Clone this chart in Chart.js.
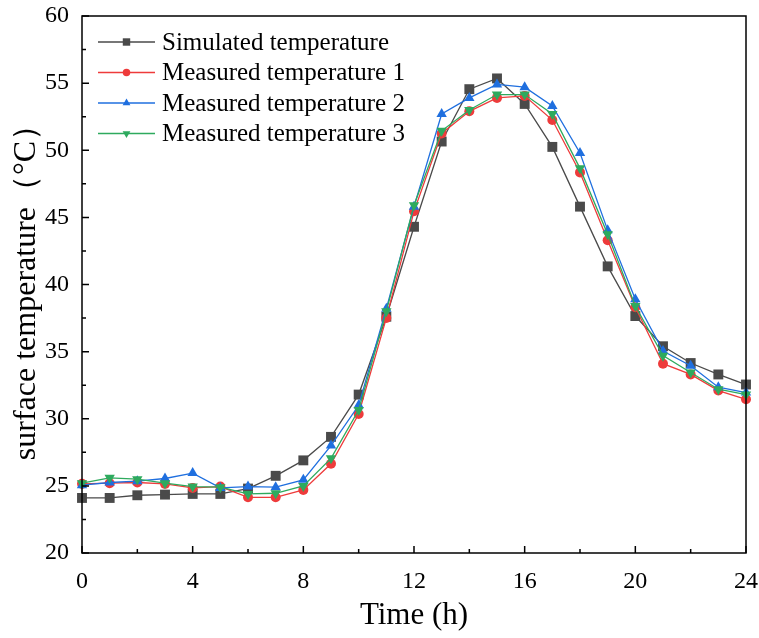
<!DOCTYPE HTML>
<html>
  <head>
    <script src="https://cdn.jsdelivr.net/npm/chart.js"></script>
    <style>
      body { margin: 0; background: #fff; }
    </style>
  </head>
  <body>
    <div style="position: relative; width: 759px; height: 638px;">
      <canvas id="temp-chart"></canvas>
    </div>

    <script>
      const hours = [0,1,2,3,4,5,6,7,8,9,10,11,12,13,14,15,16,17,18,19,20,21,22,23,24];
      const simulated = [24.1, 24.1, 24.3, 24.35, 24.4, 24.4, 24.8, 25.75, 26.9, 28.65, 31.8, 37.6, 44.3, 50.65, 54.55, 55.35, 53.45, 50.25, 45.8, 41.35, 37.65, 35.4, 34.15, 33.3, 32.55];
      const measured1 = [25.15, 25.2, 25.25, 25.15, 24.85, 24.95, 24.15, 24.15, 24.7, 26.65, 30.35, 37.5, 45.45, 51.25, 52.9, 53.9, 54.05, 52.25, 48.35, 43.3, 38.3, 34.1, 33.3, 32.1, 31.45];
      const measured2 = [25.05, 25.25, 25.35, 25.55, 25.95, 24.85, 24.95, 24.9, 25.45, 28.0, 31.0, 38.2, 45.8, 52.7, 53.9, 54.9, 54.7, 53.3, 49.8, 44.05, 38.9, 35.05, 33.95, 32.35, 31.95];
      const measured3 = [25.2, 25.6, 25.5, 25.2, 24.95, 24.9, 24.4, 24.45, 25.0, 27.05, 30.65, 38.0, 45.9, 51.45, 53.0, 54.15, 54.15, 52.7, 48.65, 43.75, 38.4, 34.7, 33.45, 32.2, 31.8];
      const labels = ['Simulated temperature', 'Measured temperature 1', 'Measured temperature 2', 'Measured temperature 3'];

      const serif = '"Liberation Serif", "DejaVu Serif", serif';

      function pts(vals) {
        return hours.map(function(h, i) { return {x: h, y: vals[i]}; });
      }

      // frame, inward ticks and a legend with line + marker samples
      const decor = {
        id: 'decor',
        afterDraw: function(chart) {
          const ctx = chart.ctx;
          const a = chart.chartArea;
          const xs = chart.scales.x, ys = chart.scales.y;
          ctx.save();
          ctx.strokeStyle = '#000';
          ctx.lineWidth = 1.5;
          ctx.strokeRect(a.left, a.top, a.right - a.left, a.bottom - a.top);
          ctx.beginPath();
          for (let v = 0; v <= 24; v += 2) {
            const px = xs.getPixelForValue(v);
            const len = (v % 4 === 0) ? 7 : 4;
            ctx.moveTo(px, a.bottom); ctx.lineTo(px, a.bottom - len);
          }
          for (let v = 20; v <= 60; v += 2.5) {
            const py = ys.getPixelForValue(v);
            const len = (v % 5 === 0) ? 7 : 4;
            ctx.moveTo(a.left, py); ctx.lineTo(a.left + len, py);
          }
          ctx.stroke();

          // legend
          ctx.font = '25px ' + serif;
          ctx.textBaseline = 'middle';
          chart.data.datasets.forEach(function(ds, i) {
            const y = 42 + i * 30.5;
            ctx.strokeStyle = ds.borderColor;
            ctx.lineWidth = 1.5;
            ctx.beginPath(); ctx.moveTo(98, y); ctx.lineTo(155, y); ctx.stroke();
            ctx.fillStyle = ds.backgroundColor;
            Chart.helpers.drawPoint(ctx, {
              pointStyle: ds.pointStyle, rotation: ds.rotation || 0,
              radius: ds.pointRadius * 0.75, borderWidth: 0
            }, 126.5, y);
            ctx.fillStyle = '#000';
            ctx.fillText(ds.label, 162, y + 1);
          });
          ctx.restore();
        }
      };

      const temp_context = document.getElementById('temp-chart');
      const temp_chart = new Chart(temp_context, {
        type: 'line',
        data: {
          datasets: [{
            label: labels[0],
            data: pts(simulated),
            borderColor: '#4a4a4a',
            backgroundColor: '#4a4a4a',
            pointStyle: 'rect',
            pointRadius: 7,
            order: 4
          }, {
            label: labels[1],
            data: pts(measured1),
            borderColor: '#ee3b3b',
            backgroundColor: '#ee3b3b',
            pointStyle: 'circle',
            pointRadius: 5,
            order: 3
          }, {
            label: labels[2],
            data: pts(measured2),
            borderColor: '#1f6fdf',
            backgroundColor: '#1f6fdf',
            pointStyle: 'triangle',
            pointRadius: 6,
            order: 2
          }, {
            label: labels[3],
            data: pts(measured3),
            borderColor: '#2eaa5e',
            backgroundColor: '#2eaa5e',
            pointStyle: 'triangle',
            rotation: 180,
            pointRadius: 6,
            order: 1
          }]
        },
        options: {
          responsive: true,
          maintainAspectRatio: false,
          animation: false,
          clip: false,
          datasets: {
            line: { borderWidth: 1.3, pointBorderWidth: 0, tension: 0, clip: false }
          },
          layout: { padding: { top: 16, right: 13, left: 0, bottom: 0 } },
          plugins: { legend: { display: false }, tooltip: { enabled: false } },
          scales: {
            x: {
              type: 'linear', min: 0, max: 24,
              afterFit: function(s) { s.height = 85; s.paddingLeft = 0; s.paddingRight = 0; },
              grid: { display: false },
              border: { display: false },
              ticks: { stepSize: 4, color: '#000', padding: 6, font: { family: serif, size: 24 } },
              title: { display: true, text: 'Time (h)', color: '#000', padding: { top: 12 }, font: { family: serif, size: 31 } }
            },
            y: {
              min: 20, max: 60,
              afterFit: function(s) { s.width = 82; s.paddingTop = 0; s.paddingBottom = 0; },
              grid: { display: false },
              border: { display: false },
              ticks: { stepSize: 5, color: '#000', padding: 5, font: { family: serif, size: 24 } },
              title: { display: true, text: 'surface temperature（°C）', color: '#000', padding: { top: 7, bottom: 0 }, font: { family: serif, size: 32 } }
            }
          }
        },
        plugins: [decor]
      });
    </script>
  </body>
</html>
